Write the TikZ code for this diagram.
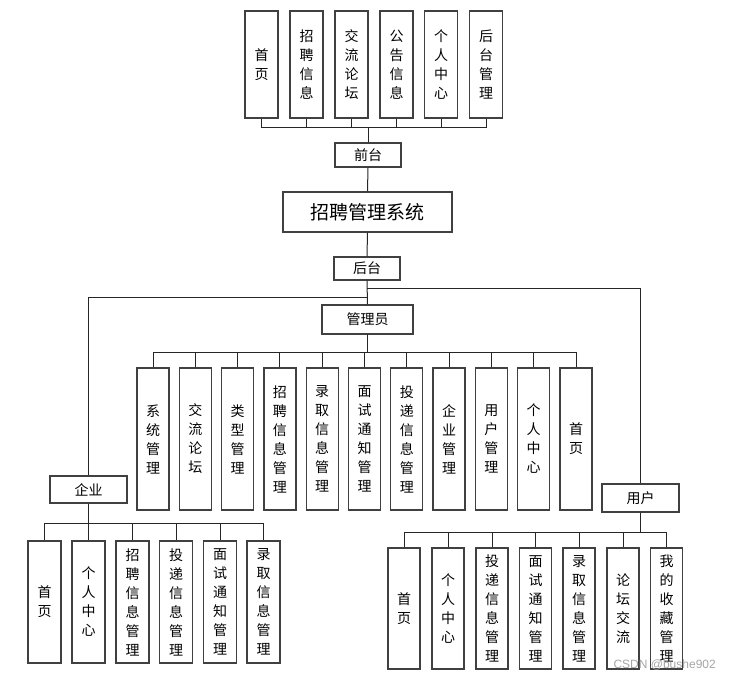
\documentclass[tikz,border=0pt]{standalone}
\usepackage{fontspec}
\newfontfamily\cjk{Noto Sans CJK SC}
\setsansfont{Liberation Sans}
\begin{document}
\begin{tikzpicture}[x=1pt,y=-1pt,
  box/.style={draw=black!75,line width=1.3pt,fill=white,inner sep=0pt,align=center,
    font=\cjk\fontsize{14}{19}\selectfont},
  conn/.style={draw=black!85,line width=1pt}]
\useasboundingbox (0,0) rectangle (731,680);
% ---- top: 前台
\foreach \n/\x/\t in {t1/261.5/首\\页, t2/306.5/招\\聘\\信\\息, t3/351.5/交\\流\\论\\坛,
  t4/396.5/公\\告\\信\\息, t5/441/个\\人\\中\\心, t6/486/后\\台\\管\\理}
  \node[box,minimum width=33,minimum height=107] (\n) at (\x,64.5) {\t};
\node[box,minimum width=66,minimum height=24] (qt) at (368,155) {前台};
\node[box,minimum width=169,minimum height=40,font=\cjk\fontsize{19}{20}\selectfont] (sys) at (367.5,212) {招聘管理系统};
\node[box,minimum width=66,minimum height=23] (ht) at (367,268.5) {后台};
\node[box,minimum width=91,minimum height=29] (gly) at (367.5,319.5) {管理员};
\node[box,minimum width=77,minimum height=27] (qy) at (88.5,489.5) {企业};
\node[box,minimum width=77,minimum height=28] (yh) at (640.5,498) {用户};
% admin children
\foreach \n/\x/\t in {a1/153/系\\统\\管\\理, a2/195.3/交\\流\\论\\坛, a3/237.6/类\\型\\管\\理,
  a4/279.9/招\\聘\\信\\息\\管\\理, a5/322.2/录\\取\\信\\息\\管\\理, a6/364.5/面\\试\\通\\知\\管\\理,
  a7/406.8/投\\递\\信\\息\\管\\理, a8/449.1/企\\业\\管\\理, a9/491.4/用\\户\\管\\理,
  a10/533.7/个\\人\\中\\心, a11/576/首\\页}
  \node[box,minimum width=32,minimum height=142] (\n) at (\x,439) {\t};
% enterprise children
\foreach \n/\x/\t in {e1/44.5/首\\页, e2/88.5/个\\人\\中\\心, e3/132.5/招\\聘\\信\\息\\管\\理,
  e4/176/投\\递\\信\\息\\管\\理, e5/220/面\\试\\通\\知\\管\\理, e6/263.5/录\\取\\信\\息\\管\\理}
  \node[box,minimum width=33,minimum height=122] (\n) at (\x,602) {\t};
% user children
\foreach \n/\x/\t in {u1/404/首\\页, u2/448/个\\人\\中\\心, u3/492/投\\递\\信\\息\\管\\理,
  u4/535.5/面\\试\\通\\知\\管\\理, u5/579/录\\取\\信\\息\\管\\理, u6/623/论\\坛\\交\\流,
  u7/666.5/我\\的\\收\\藏\\管\\理}
  \node[box,minimum width=32,minimum height=121] (\n) at (\x,608.5) {\t};
% ---- connectors
\coordinate (tb) at (368,127);
\foreach \n in {t1,t2,t3,t4,t5,t6}
  \draw[conn] (qt.north) -- (qt.north |- tb) -| (\n.south);
\draw[conn] (qt.south) -- (sys.north);
\draw[conn] (sys.south) -- (ht.north);
\draw[conn] (ht.south) -- (gly.north);
\coordinate (br) at (367,288);
\coordinate (bl) at (367,297);
\draw[conn] (br) -| (yh.north);
\draw[conn] (bl) -| (qy.north);
\coordinate (ab) at (367.5,352);
\foreach \n in {a1,a2,a3,a4,a5,a6,a7,a8,a9,a10,a11}
  \draw[conn] (gly.south) -- (gly.south |- ab) -| (\n.north);
\coordinate (eb) at (89,523);
\foreach \n in {e1,e2,e3,e4,e5,e6}
  \draw[conn] (qy.south) -- (qy.south |- eb) -| (\n.north);
\coordinate (ub) at (641,532);
\foreach \n in {u1,u2,u3,u4,u5,u6,u7}
  \draw[conn] (yh.south) -- (yh.south |- ub) -| (\n.north);
% watermark
\node[text=black!35,font=\sffamily\fontsize{12}{12}\selectfont,anchor=east,inner sep=0pt] (wm) at (716,665) {CSDN @bushe902};
\end{tikzpicture}
\end{document}
